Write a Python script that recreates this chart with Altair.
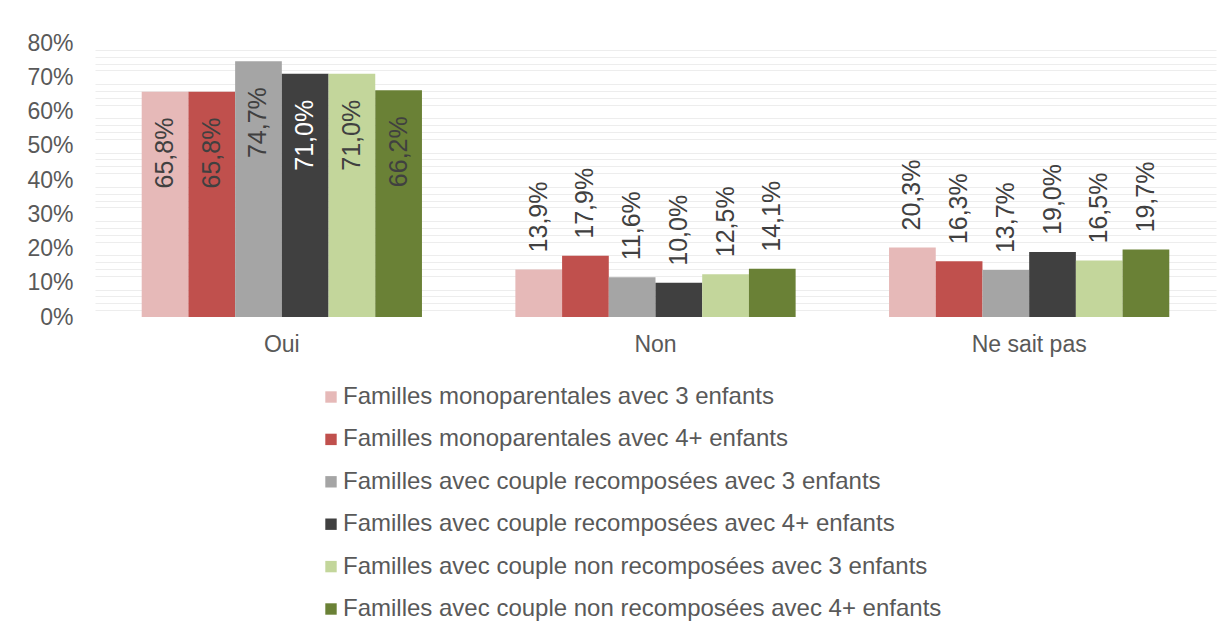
import altair as alt
import pandas as pd

categories = ["Oui", "Non", "Ne sait pas"]
series = [
    "Familles monoparentales avec 3 enfants",
    "Familles monoparentales avec 4+ enfants",
    "Familles avec couple recomposées avec 3 enfants",
    "Familles avec couple recomposées avec 4+ enfants",
    "Familles avec couple non recomposées avec 3 enfants",
    "Familles avec couple non recomposées avec 4+ enfants",
]
colors = ["#E6B9B8", "#C0504D", "#A5A5A5", "#404040", "#C3D69B", "#6A8136"]

mono3 = [65.8, 13.9, 20.3]
mono4 = [65.8, 17.9, 16.3]
recomp3 = [74.7, 11.6, 13.7]
recomp4 = [71.0, 10.0, 19.0]
nonrecomp3 = [71.0, 12.5, 16.5]
nonrecomp4 = [66.2, 14.1, 19.7]

major_ticks = [0, 10, 20, 30, 40, 50, 60, 70, 80]
minor_ticks = [v for v in range(0, 81, 2) if v % 10 != 0]

rows = []
for s, vals in zip(series, [mono3, mono4, recomp3, recomp4, nonrecomp3, nonrecomp4]):
    for c, v in zip(categories, vals):
        rows.append({"cat": c, "series": s, "value": v,
                     "label": f"{v:.1f}%".replace(".", ",")})
df = pd.DataFrame(rows)

FONT = "Liberation Sans"
TXT = "#595959"

x_enc = alt.X("cat:N", sort=categories, title=None,
              scale=alt.Scale(paddingInner=0.25, paddingOuter=0.125),
              axis=alt.Axis(labelAngle=0, ticks=False, domain=False, grid=False,
                            labelFontSize=23, labelColor=TXT, labelFont=FONT,
                            labelPadding=16))
xo_enc = alt.XOffset("series:N", sort=series, scale=alt.Scale(paddingInner=0, paddingOuter=0))
y_scale = alt.Scale(domain=[0, 80], nice=False)

base = alt.Chart(df)

minor = base.mark_bar(opacity=0).encode(
    x=x_enc,
    xOffset=xo_enc,
    y=alt.Y("value:Q", scale=y_scale, title=None,
            axis=alt.Axis(values=minor_ticks, labels=False, ticks=False, domain=False,
                          orient="left", gridColor="#EDEDED", gridWidth=1.2)),
)

bars = base.mark_bar().encode(
    x=x_enc,
    xOffset=xo_enc,
    y=alt.Y("value:Q", scale=y_scale, title=None,
            axis=alt.Axis(values=major_ticks, labelExpr="datum.value + '%'", orient="left",
                          ticks=False, domain=False, gridColor="#D9D9D9", gridWidth=1.5,
                          labelFontSize=23, labelColor=TXT, labelFont=FONT,
                          labelPadding=22)),
    color=alt.Color("series:N", sort=series,
                    scale=alt.Scale(domain=series, range=colors),
                    legend=alt.Legend(title=None, orient="none", legendX=224, legendY=342,
                                      direction="vertical", symbolType="square",
                                      symbolSize=130, symbolStrokeWidth=0,
                                      labelFontSize=24, labelColor=TXT, labelFont=FONT,
                                      labelLimit=1000, rowPadding=18.4, labelOffset=0)),
)

inside = base.transform_filter(alt.datum.cat == "Oui").mark_text(
    angle=270, align="right", baseline="middle", dx=-26, fontSize=25, font=FONT
).encode(
    x=alt.X("cat:N", sort=categories),
    xOffset=xo_enc,
    y=alt.Y("value:Q", scale=y_scale, axis=None),
    text="label:N",
    color=alt.condition(alt.datum.series == series[3], alt.value("white"), alt.value("#404040")),
)

outside = base.transform_filter(alt.datum.cat != "Oui").mark_text(
    angle=270, align="left", baseline="middle", dx=17, fontSize=25, font=FONT,
    color="#404040"
).encode(
    x=alt.X("cat:N", sort=categories),
    xOffset=xo_enc,
    y=alt.Y("value:Q", scale=y_scale, axis=None),
    text="label:N",
)

chart = alt.layer(minor, bars, inside, outside).resolve_axis(y="independent").properties(
    width=1121, height=274,
    autosize=alt.AutoSizeParams(type="none"),
    padding={"left": 87, "top": 35, "right": 8, "bottom": 307},
    view=alt.ViewBackground(strokeWidth=0, strokeOpacity=0),
).configure_view(strokeWidth=0, strokeOpacity=0).configure_axis(
    domain=False, ticks=False).configure_axisX(grid=False).configure(background="white")

chart.save("out.html", embed_options={"renderer": "svg", "actions": False})
